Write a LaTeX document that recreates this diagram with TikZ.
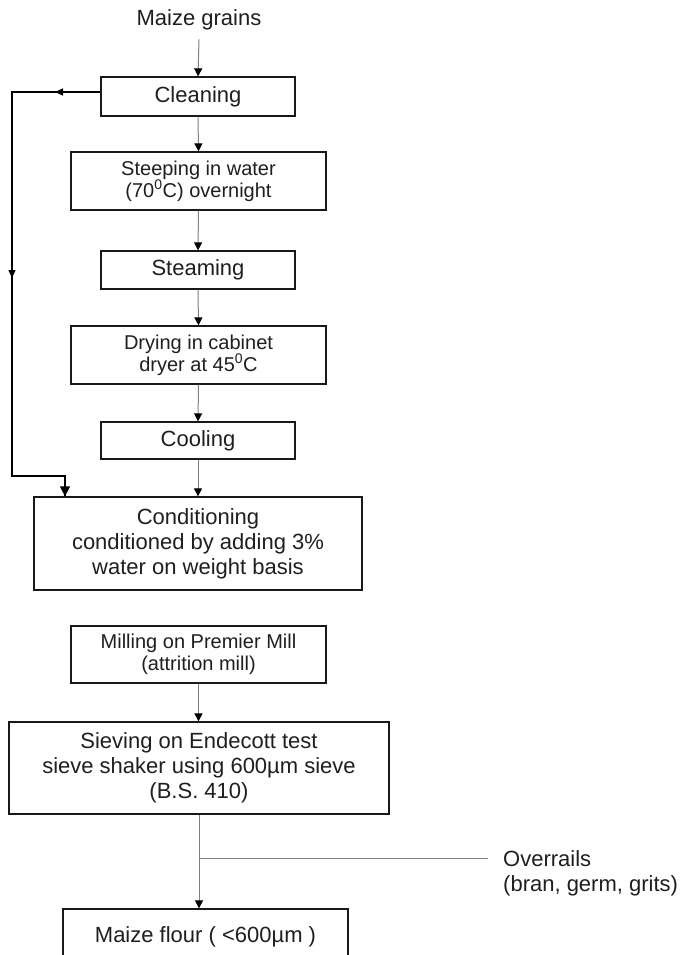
\documentclass[tikz,border=0pt]{standalone}
\usepackage{fontspec}
\setmainfont{Liberation Sans}
\usetikzlibrary{arrows.meta}
\begin{document}
\begin{tikzpicture}[x=1pt,y=-1pt,
  box/.style={draw=black!90, line width=1.3pt, inner sep=0pt, align=center, text=black!88,
    font=\fontsize{22}{25}\selectfont},
  sbox/.style={box, font=\fontsize{20}{22}\selectfont},
  plain/.style={inner sep=0pt, text=black!88, font=\fontsize{22}{25}\selectfont},
  flow/.style={draw=black!50, line width=1pt, -{Triangle[length=8pt,width=8pt,color=black]}},
  greyline/.style={draw=black!50, line width=1pt},
  loopline/.style={draw=black, line width=1.4pt},
  looptip/.style={loopline, -{Triangle[length=8pt,width=7pt]}},
  bigtip/.style={loopline, -{Triangle[length=10pt,width=10pt]}}
]
\fill[white] (0,0) rectangle (682,955);
\useasboundingbox (0,0) rectangle (682,955);

% nodes
\node[plain] (grain) at (199,20) {Maize grains};
\node[box, minimum width=194pt, minimum height=39pt] (clean) at (198,96.5) {Cleaning};
\node[sbox, minimum width=255pt, minimum height=58pt] (steep) at (198.5,181) {Steeping in water\\(70\textsuperscript{0}C) overnight};
\node[box, minimum width=194pt, minimum height=38pt] (steam) at (198,270) {Steaming};
\node[sbox, minimum width=255pt, minimum height=58pt] (dry) at (198.5,355) {Drying in cabinet\\dryer at 45\textsuperscript{0}C};
\node[box, minimum width=194pt, minimum height=37pt] (cool) at (198,440.5) {Cooling};
\node[box, minimum width=328pt, minimum height=93pt] (cond) at (198,543.5) {Conditioning\\conditioned by adding 3\%\\water on weight basis};
\node[sbox, minimum width=255pt, minimum height=57pt] (mill) at (198.5,654.5) {Milling on Premier Mill\\(attrition mill)};
\node[box, minimum width=380pt, minimum height=92pt] (sieve) at (199,768) {Sieving on Endecott test\\sieve shaker using 600µm sieve\\(B.S. 410)};
\node[box, minimum width=285pt, minimum height=56pt] (flour) at (205.5,937) {\raisebox{5pt}{Maize flour ( <600µm )}};
\node[plain, anchor=west, align=left] (over) at (503,873.5) {Overrails\\(bran, germ, grits)};

% main flow
\draw[flow] ([yshift=-9pt]grain.south) -- (clean.north);
\draw[flow] (clean.south) -- (steep.north);
\draw[flow] (steep.south) -- (steam.north);
\draw[flow] (steam.south) -- (dry.north);
\draw[flow] (dry.south) -- (cool.north);
\draw[flow] (cool.south) -- (cond.north);
\draw[flow] (mill.south) -- (mill.south |- sieve.north);
\draw[flow] (sieve.south) -- (sieve.south |- flour.north);

% overrails branch
\coordinate (br) at (199,858);
\coordinate (brend) at (488,858);
\draw[greyline] (br) -- (brend);

% bypass loop
\coordinate (ls) at ([yshift=4.5pt]clean.west);
\coordinate (la) at (12,92);
\coordinate (lb) at (12,476);
\coordinate (lc) at (65,476);
\coordinate (m1) at (55,92);
\coordinate (m2) at (12,278);
\draw[loopline, line join=miter] (ls) -- (la) -- (lb) -- (lc) -- (lc |- cond.north);
\draw[looptip] (ls) -- (m1);
\draw[looptip] (la) -- (m2);
\draw[bigtip] (lc) -- (lc |- cond.north);
\end{tikzpicture}
\end{document}
